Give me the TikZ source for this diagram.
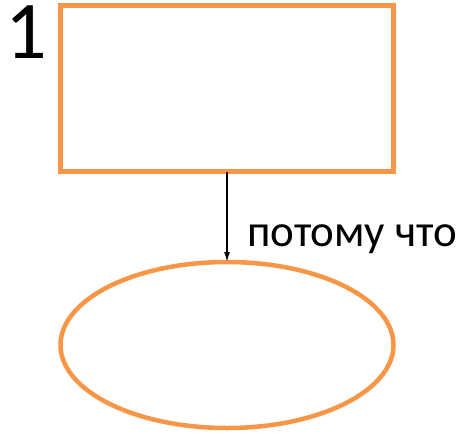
\documentclass[tikz,border=0pt]{standalone}
\usepackage{fontspec}
\setmainfont{Carlito}
\usetikzlibrary{shapes.geometric,arrows.meta}
\definecolor{boxorange}{RGB}{247,150,70}
\tikzset{
    framed/.style={draw=boxorange,line width=4.5pt,inner sep=0pt,outer sep=0pt},
}
\begin{document}
\begin{tikzpicture}[x=1pt,y=-1pt]
        \useasboundingbox (0,0) rectangle (465,433);
        \node[framed,rectangle,minimum width=333pt,minimum height=166pt] (box) at (227,88.5) {};
        \node[framed,ellipse,minimum width=333pt,minimum height=166pt] (oval) at (227,345) {};
        \draw[line width=1.5pt,-{Latex[length=10pt,width=6pt]}] (box.south) -- (oval.north);
        \node[anchor=base west,inner sep=0pt] (reason) at (247,246) {\fontsize{45}{54}\selectfont потому что};
        \node[anchor=base west,inner sep=0pt] (num) at (5,59) {\fontsize{82}{96}\selectfont 1};
    \end{tikzpicture}
\end{document}
